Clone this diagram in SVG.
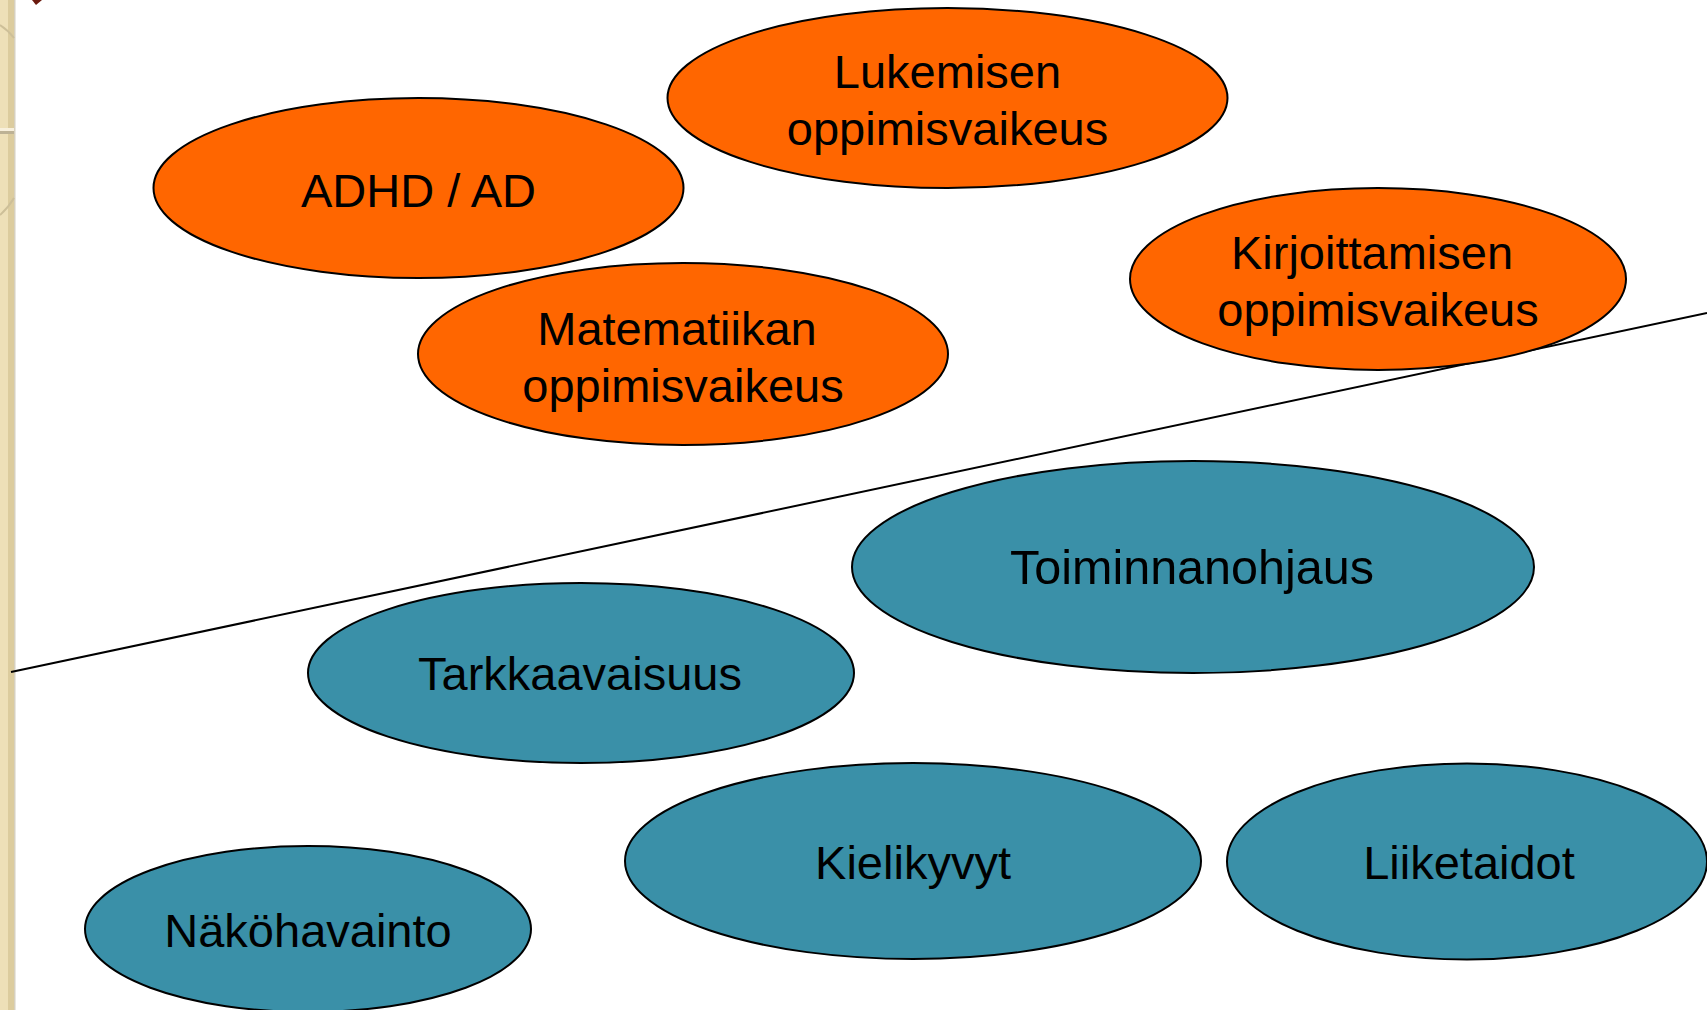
<svg xmlns="http://www.w3.org/2000/svg" width="1707" height="1010" viewBox="0 0 1707 1010">
<style>
.o{fill:#FF6600;stroke:#000;stroke-width:2}
.t{fill:#3A90A8;stroke:#000;stroke-width:2}
text{font-family:"Liberation Sans",Arial,sans-serif;font-size:47px;fill:#000;text-anchor:middle}
</style>
<rect width="1707" height="1010" fill="#fff"/>
<g id="border">
<rect x="0" y="0" width="14" height="1010" fill="#EEE0B8"/>
<rect x="8" y="0" width="6" height="1010" fill="#DCCC9E"/>
<rect x="14" y="0" width="1.5" height="1010" fill="#D6D0C0"/>
<rect x="0" y="131" width="14" height="3" fill="#BDB295"/>
<rect x="0" y="128" width="14" height="3" fill="#F8F0DC"/>
<path d="M0 25 Q8 30 14 38" fill="none" stroke="#CDBF98" stroke-width="2"/>
<path d="M0 215 Q8 208 14 198" fill="none" stroke="#CDBF98" stroke-width="2"/>
<path d="M32 0 L42 0 L36 5 Z" fill="#6B1A0E"/>
</g>
<g id="connectors">
<line x1="11" y1="672" x2="1707" y2="313" stroke="#000" stroke-width="2"/>
</g>
<g id="lukemisen"><ellipse class="o" cx="947.5" cy="98" rx="280" ry="90"/><text x="947.5" y="88">Lukemisen</text><text x="947.5" y="145">oppimisvaikeus</text></g>
<g id="adhd"><ellipse class="o" cx="418.5" cy="188" rx="265" ry="90"/><text x="418.5" y="207">ADHD / AD</text></g>
<g id="matematiikan"><ellipse class="o" cx="683" cy="354" rx="265" ry="91"/><text x="677" y="345">Matematiikan</text><text x="683" y="402">oppimisvaikeus</text></g>
<g id="kirjoittamisen"><ellipse class="o" cx="1378" cy="279" rx="248" ry="91"/><text x="1372" y="269">Kirjoittamisen</text><text x="1378" y="326">oppimisvaikeus</text></g>
<g id="toiminnanohjaus"><ellipse class="t" cx="1193" cy="567" rx="341" ry="106"/><text x="1192" y="584" style="font-size:48.5px">Toiminnanohjaus</text></g>
<g id="tarkkaavaisuus"><ellipse class="t" cx="581" cy="673" rx="273" ry="90"/><text x="580" y="690">Tarkkaavaisuus</text></g>
<g id="kielikyvyt"><ellipse class="t" cx="913" cy="861" rx="288" ry="98"/><text x="913" y="879">Kielikyvyt</text></g>
<g id="liiketaidot"><ellipse class="t" cx="1467" cy="861.5" rx="240" ry="98"/><text x="1469" y="879">Liiketaidot</text></g>
<g id="nakohavainto"><ellipse class="t" cx="308" cy="929" rx="223" ry="83"/><text x="308" y="947">Näköhavainto</text></g>
</svg>
